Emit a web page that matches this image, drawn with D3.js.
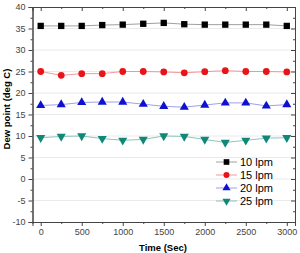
<!DOCTYPE html>
<html>
  <head>
    <meta charset="utf-8">
  </head>
  <style>
    body { margin: 0; background: #fff; }
    .axis-label { font-family: Arial, "Liberation Sans", sans-serif; font-weight: bold; font-size: 9.5px; text-anchor: middle; }
    .tick text { font-family: Arial, "Liberation Sans", sans-serif; font-size: 9px; fill: #444; }
  </style>
  <body>
    <div id="chart"></div>
  </body>
  <script src="https://d3js.org/d3.v7.min.js"></script>
  <script>
    // Time samples (sec)
    const TIMES = [0, 250, 500, 750, 1000, 1250, 1500, 1750, 2000, 2250, 2500, 2750, 3000];
    // Dew point readings per flow rate
    const LPM10 = [35.6, 35.6, 35.6, 35.8, 35.9, 36.1, 36.3, 36.0, 35.9, 35.9, 35.9, 35.9, 35.6];
    const LPM15 = [25.0, 24.1, 24.5, 24.5, 25.0, 25.0, 24.9, 24.7, 24.95, 25.2, 25.0, 25.0, 24.9];
    const LPM20 = [17.1, 17.3, 17.8, 17.9, 17.9, 17.4, 16.9, 16.7, 17.2, 17.7, 17.7, 17.0, 17.3];
    const LPM25 = [9.6, 9.9, 10.0, 9.4, 9.0, 9.2, 10.0, 9.9, 9.2, 8.5, 9.0, 9.5, 9.6];
    const SERIES_NAMES = ['10 lpm', '15 lpm', '20 lpm', '25 lpm'];
    const Y_TICKS = [-10, -5, 0, 5, 10, 15, 20, 25, 30, 35, 40];
    const X_TICKS = [0, 500, 1000, 1500, 2000, 2500, 3000];

    var W = 300, H = 253;
    var LEFT = 32.5, RIGHT = 295, TOP = 7, BOTTOM = 222;

    var x = d3.scaleLinear().domain([-100, 3100]).range([LEFT, RIGHT]);
    var y = d3.scaleLinear().domain([-10, 40]).range([BOTTOM, TOP]);
    var plain = function (d) { return String(d); };

    var svg = d3.select('#chart').append('svg').attr('width', W).attr('height', H);

    // Horizontal grid
    svg.append('g').selectAll('line')
      .data(Y_TICKS.slice(1, -1))
      .enter().append('line')
      .attr('x1', LEFT).attr('x2', RIGHT)
      .attr('y1', d => y(d)).attr('y2', d => y(d))
      .style('stroke', '#e4e4e4').style('stroke-width', 0.8);

    var minorY = d3.range(-7.5, 40, 5);
    var minorX = d3.range(250, 3000, 500);

    // Axes
    svg.append('g').attr('transform', 'translate(' + LEFT + ',0)')
      .call(d3.axisLeft(y).tickValues(Y_TICKS).tickSize(4).tickPadding(3).tickFormat(plain));
    svg.append('g').attr('transform', 'translate(' + LEFT + ',0)')
      .call(d3.axisLeft(y).tickValues(minorY).tickSize(2).tickFormat(''));
    svg.append('g').attr('transform', 'translate(0,' + BOTTOM + ')')
      .call(d3.axisBottom(x).tickValues(X_TICKS).tickSize(4).tickPadding(3).tickFormat(plain));
    svg.append('g').attr('transform', 'translate(0,' + BOTTOM + ')')
      .call(d3.axisBottom(x).tickValues(minorX).tickSize(2).tickFormat(''));
    svg.append('g').attr('transform', 'translate(' + RIGHT + ',0)')
      .call(d3.axisRight(y).tickValues(Y_TICKS).tickSize(-4).tickFormat(''));
    svg.append('g').attr('transform', 'translate(' + RIGHT + ',0)')
      .call(d3.axisRight(y).tickValues(minorY).tickSize(-2).tickFormat(''));
    svg.append('g').attr('transform', 'translate(0,' + TOP + ')')
      .call(d3.axisTop(x).tickValues(X_TICKS).tickSize(-4).tickFormat(''));
    svg.append('g').attr('transform', 'translate(0,' + TOP + ')')
      .call(d3.axisTop(x).tickValues(minorX).tickSize(-2).tickFormat(''));
    svg.selectAll('.domain').style('stroke', '#444');
    svg.selectAll('.tick line').style('stroke', '#444');

    // Axis labels
    svg.append('text').attr('class', 'axis-label')
      .attr('transform', 'translate(9.5,109) rotate(-90)')
      .text('Dew point (deg C)');
    svg.append('text').attr('class', 'axis-label')
      .attr('x', 163).attr('y', 251)
      .text('Time (Sec)');

    var series = [
      { name: SERIES_NAMES[0], values: LPM10, color: '#000000', line: '#888', sym: d3.symbolSquare, size: 40, rot: 0 },
      { name: SERIES_NAMES[1], values: LPM15, color: '#e8141a', line: '#f08080', sym: d3.symbolCircle, size: 36, rot: 0 },
      { name: SERIES_NAMES[2], values: LPM20, color: '#1010d0', line: '#8888e0', sym: d3.symbolTriangle, size: 36, rot: 0 },
      { name: SERIES_NAMES[3], values: LPM25, color: '#108878', line: '#70b8b0', sym: d3.symbolTriangle, size: 36, rot: 180 }
    ];

    var line = d3.line().x((d, i) => x(TIMES[i])).y(d => y(d));

    series.forEach(function (s) {
      svg.append('path').datum(s.values)
        .attr('d', line)
        .style('fill', 'none').style('stroke', s.line).style('stroke-width', 0.8);
      svg.append('g').selectAll('path')
        .data(s.values).enter().append('path')
        .attr('d', d3.symbol().type(s.sym).size(s.size))
        .attr('transform', (d, i) => 'translate(' + x(TIMES[i]) + ',' + y(d) + ') rotate(' + s.rot + ')')
        .style('fill', s.color);
    });

    // Legend
    var legend = svg.append('g').attr('transform', 'translate(216,162)');
    series.forEach(function (s, i) {
      var g = legend.append('g').attr('transform', 'translate(0,' + i * 13 + ')');
      g.append('line').attr('x1', 0).attr('x2', 21).attr('y1', 0).attr('y2', 0)
        .style('stroke', s.line).style('stroke-width', 0.8);
      g.append('path').attr('d', d3.symbol().type(s.sym).size(s.size * 0.8))
        .attr('transform', 'translate(10.5,0) rotate(' + s.rot + ')')
        .style('fill', s.color);
      g.append('text').attr('x', 24).attr('y', 4)
        .style('font-family', 'Arial, "Liberation Sans", sans-serif').style('font-size', '11px')
        .text(s.name);
    });
  </script>
</html>
